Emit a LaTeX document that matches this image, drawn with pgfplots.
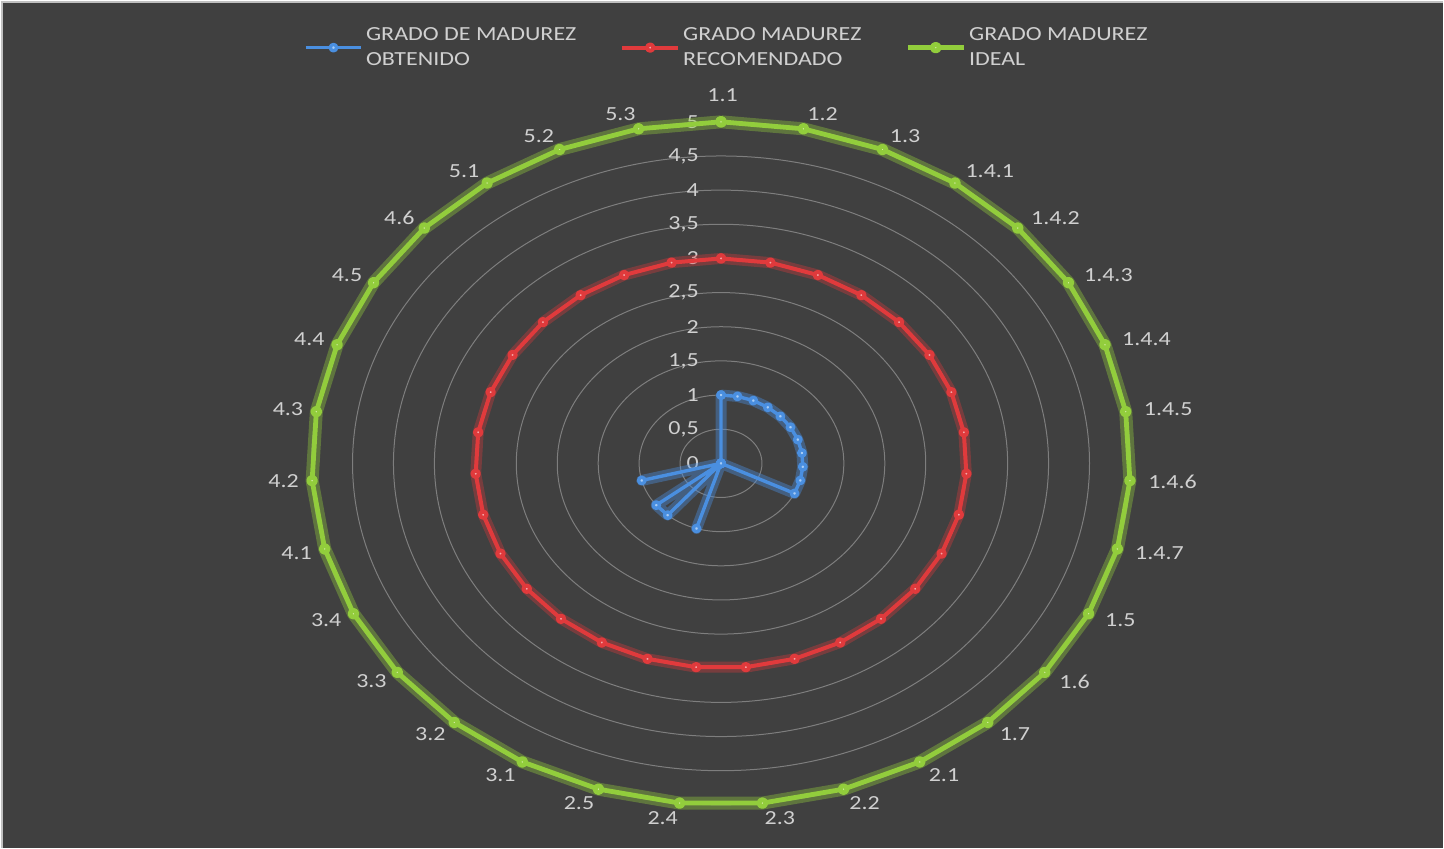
\documentclass[border=0pt]{standalone}
\usepackage{fontspec}
\setmainfont{Carlito}[FakeStretch=1.2]
\usepackage{pgfplots}
\pgfplotsset{compat=1.18}
\usepackage{pgfplotstable}

\definecolor{bgc}{HTML}{404040}
\definecolor{gridc}{HTML}{7E7E7E}
\definecolor{txtc}{HTML}{D0D0D0}
\definecolor{obt}{HTML}{4A8FE0}
\definecolor{obtm}{HTML}{A8CCF5}
\definecolor{rec}{HTML}{E03A3C}
\definecolor{recm}{HTML}{F5A9AA}
\definecolor{ide}{HTML}{92CD3C}
\definecolor{idem}{HTML}{D4EDA5}

% angle (deg, clockwise from top), obtenido, recomendado, ideal
\pgfplotstableread{
ang      obt rec ide
90       1   3   5
78.387   1   3   5
66.774   1   3   5
55.161   1   3   5
43.548   1   3   5
31.935   1   3   5
20.323   1   3   5
8.710    1   3   5
-2.903   1   3   5
-14.516  1   3   5
-26.129  1   3   5
-37.742  0   3   5
-49.355  0   3   5
-60.968  0   3   5
-72.581  0   3   5
-84.194  0   3   5
-95.806  0   3   5
-107.419 1   3   5
-119.032 0   3   5
-130.645 1   3   5
-142.258 1   3   5
-153.871 0   3   5
-165.484 1   3   5
-177.097 0   3   5
-188.710 0   3   5
-200.323 0   3   5
-211.935 0   3   5
-223.548 0   3   5
-235.161 0   3   5
-246.774 0   3   5
-258.387 0   3   5
-270     1   3   5
}\madurez

\begin{document}
\begin{tikzpicture}[font=\fontsize{10}{12.5}\selectfont]
\begin{axis}[
  x=41pt, y=34.2pt,
  xmin=-8.793, xmax=8.817, ymin=-5.629, ymax=6.769,
  hide axis, clip=false,
  legend columns=3,
  legend cell align=left,
  legend style={at={(axis cs:-5.1,6.45)}, anchor=north west,
    draw=none, fill=none, text=txtc, inner sep=0pt,
    cells={align=left}, nodes={inner xsep=1.5pt},
    /tikz/every even column/.append style={column sep=20.5pt}},
  legend image code/.code={\draw[mark repeat=2,mark phase=2,#1]
    plot coordinates {(0pt,0pt) (14pt,0pt) (28pt,0pt)};},
]
% background and frame
\fill[bgc] (rel axis cs:0,0) rectangle (rel axis cs:1,1);
\draw[color={rgb,255:red,192;green,192;blue,192}, line width=1pt]
  ([yshift=-0.5pt]rel axis cs:0,1) -- ([yshift=-0.5pt]rel axis cs:1,1);
\draw[color={rgb,255:red,192;green,192;blue,192}, line width=1pt]
  ([xshift=0.5pt]rel axis cs:0,0) -- ([xshift=0.5pt]rel axis cs:0,1);

% grid rings
\foreach \r in {0.5,1,...,5} {
  \edef\temp{\noexpand\draw[gridc, line width=0.5pt]
    (axis cs:0,0) ellipse [x radius=\r, y radius=\r];}
  \temp
}

% radial tick labels
\foreach \v/\t in {0/0,0.5/{0,5},1/1,1.5/{1,5},2/2,2.5/{2,5},3/3,3.5/{3,5},4/4,4.5/{4,5},5/5} {
  \edef\temp{\noexpand\node[text=txtc, anchor=east, inner sep=0pt, xshift=-11pt]
    at (axis cs:0,\v) {\t};}
  \temp
}

% category labels, placed beside each spoke end
\foreach \lab [count=\k from 0] in {1.1,1.2,1.3,1.4.1,1.4.2,1.4.3,1.4.4,1.4.5,1.4.6,1.4.7,1.5,1.6,1.7,2.1,2.2,2.3,2.4,2.5,3.1,3.2,3.3,3.4,4.1,4.2,4.3,4.4,4.5,4.6,5.1,5.2,5.3} {
  \pgfmathsetmacro\th{\k*360/31}
  \pgfmathsetmacro\px{5*sin(\th)}
  \pgfmathsetmacro\py{5*cos(\th)}
  \pgfmathsetmacro\dx{9*sin(\th)}
  \pgfmathsetmacro\dy{7.5*cos(\th)}
  \ifnum\k=0
    \def\anc{south}\def\dx{0.8}\def\dy{10}
  \else
    \ifdim\dx pt>0pt \def\anc{west}\else
      \def\anc{east}\pgfmathsetmacro\dx{6.5*sin(\th)}\fi
  \fi
  \edef\temp{\noexpand\node[text=txtc, anchor=\anc, inner sep=0pt,
    xshift=\dx pt, yshift=\dy pt] at (axis cs:\px,\py) {\lab};}
  \temp
}

% GRADO DE MADUREZ OBTENIDO
\addplot[forget plot, data cs=polar, obt, line width=5.5pt, opacity=0.4, line join=round]
  table[x=ang, y=obt] {\madurez};
\addplot[data cs=polar, obt, line width=1.7pt, line join=round,
  mark=*, mark size=1.6pt, mark options={fill=obtm, draw=none}]
  table[x=ang, y=obt] {\madurez};
\addlegendentry{GRADO DE MADUREZ\\OBTENIDO}

% GRADO MADUREZ RECOMENDADO
\addplot[forget plot, data cs=polar, rec, line width=5.5pt, opacity=0.35, line join=round]
  table[x=ang, y=rec] {\madurez};
\addplot[data cs=polar, rec, line width=2pt, line join=round,
  mark=*, mark size=1.6pt, mark options={fill=recm, draw=none}]
  table[x=ang, y=rec] {\madurez};
\addlegendentry{GRADO MADUREZ\\RECOMENDADO}

% GRADO MADUREZ IDEAL
\addplot[forget plot, data cs=polar, ide, line width=6.5pt, opacity=0.38, line join=round]
  table[x=ang, y=ide] {\madurez};
\addplot[data cs=polar, ide, line width=2.4pt, line join=round,
  mark=*, mark size=1.7pt, mark options={fill=idem, draw=none}]
  table[x=ang, y=ide] {\madurez};
\addlegendentry{GRADO MADUREZ\\IDEAL}
\end{axis}
\end{tikzpicture}
\end{document}
